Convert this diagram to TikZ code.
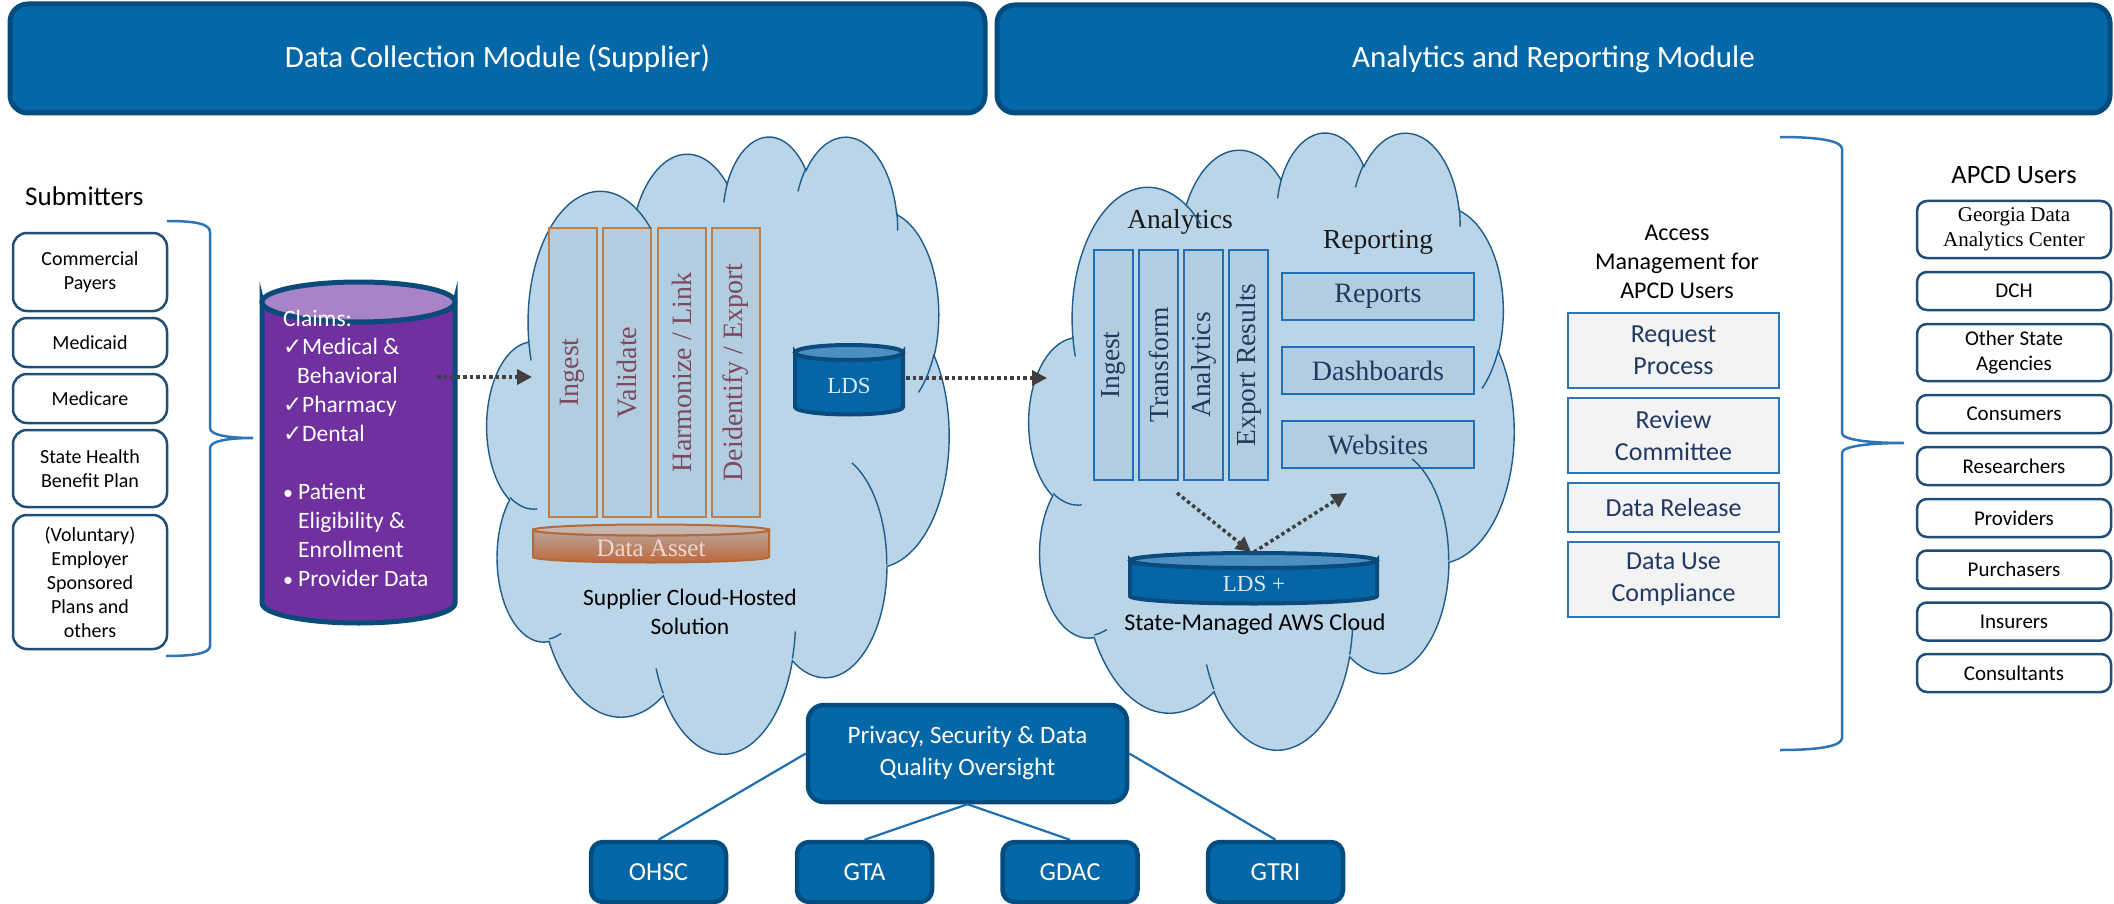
\documentclass[tikz,border=0pt]{standalone}
\usepackage{fontspec}
\setmainfont{Carlito}
\newfontfamily\serif{Liberation Serif}
\newfontfamily\djv{DejaVu Sans}
\usetikzlibrary{arrows.meta}

\definecolor{hdrfill}{HTML}{0468A8}
\definecolor{hdrborder}{HTML}{034C7F}
\definecolor{cloudfill}{HTML}{BAD5E8}
\definecolor{cloudline}{HTML}{1F5C8C}
\definecolor{ocolborder}{HTML}{C27D45}
\definecolor{colfill}{HTML}{B3CDE0}
\definecolor{ocoltext}{HTML}{7B4A5E}
\definecolor{bcolborder}{HTML}{1F70B8}
\definecolor{bcoltext}{HTML}{1F3A5F}
\definecolor{accfill}{HTML}{F3F3F3}
\definecolor{accborder}{HTML}{2E75B6}
\definecolor{acctext}{HTML}{203864}
\definecolor{boxborder}{HTML}{1F4E79}
\definecolor{bracecol}{HTML}{2E75B6}
\definecolor{purplebody}{HTML}{7030A0}
\definecolor{purpletop}{HTML}{A884C6}
\definecolor{cylborder}{HTML}{0B4B7C}
\definecolor{ldsbody}{HTML}{0466A6}
\definecolor{ldstop}{HTML}{4C90C2}
\definecolor{ldstext}{HTML}{DCE8F3}
\definecolor{assettop}{HTML}{B9A49C}
\definecolor{assetbot}{HTML}{C0683A}
\definecolor{assetborder}{HTML}{B36A3A}
\definecolor{assettext}{HTML}{ECD9D1}
\definecolor{arrowgray}{HTML}{404040}
\definecolor{linkblue}{HTML}{1F6FB0}

% OOXML-style elliptical arc: wR hR stAng swAng (visual angles)
\newcommand\CloudArc[4]{%
  \pgfmathsetmacro\CAa{atan2((#1)*sin(#3),(#2)*cos(#3))}%
  \pgfmathsetmacro\CAb{atan2((#1)*sin((#3)+(#4)),(#2)*cos((#3)+(#4)))}%
  \pgfmathsetmacro\CAb{ifthenelse((#4)>0,ifthenelse(\CAb<\CAa,\CAb+360,\CAb),ifthenelse(\CAb>\CAa,\CAb-360,\CAb))}%
  \pgfpatharcaxes{\CAa}{\CAb}{\pgfpointxy{#1}{0}}{\pgfpointxy{0}{#2}}%
}
\newcommand\CloudMain{%
 \pgfpathmoveto{\pgfpointxy{39.00}{143.70}}%
 \CloudArc{67.53}{91.90}{-190.4875}{123.7805}%
 \CloudArc{53.33}{72.67}{-144.1024}{89.9452}%
 \CloudArc{43.65}{59.45}{-145.8079}{99.7230}%
 \CloudArc{48.57}{65.95}{-130.9861}{117.2417}%
 \CloudArc{53.33}{72.73}{-78.7089}{109.0269}%
 \CloudArc{67.75}{92.20}{-46.2673}{130.2690}%
 \CloudArc{57.85}{78.67}{0.6250}{114.0333}%
 \CloudArc{67.52}{92.15}{22.4516}{115.1726}%
 \CloudArc{77.20}{105.43}{66.2426}{75.7110}%
 \CloudArc{43.60}{59.18}{-274.9421}{146.7356}%
 \CloudArc{43.45}{59.45}{-246.8285}{152.5189}%
 \pgfpathclose}
\newcommand\CloudInner{%
 \pgfpathmoveto{\pgfpointxy{46.93}{261.77}}\CloudArc{43.45}{59.45}{86.7420}{26.4295}%
 \pgfpathmoveto{\pgfpointxy{69.28}{348.99}}\CloudArc{43.60}{59.18}{73.6105}{11.4475}%
 \pgfpathmoveto{\pgfpointxy{164.78}{390.90}}\CloudArc{67.52}{92.15}{137.6242}{14.0811}%
 \pgfpathmoveto{\pgfpointxy{288.27}{347.51}}\CloudArc{67.52}{92.15}{6.4533}{15.9984}%
 \pgfpathmoveto{\pgfpointxy{341.29}{229.54}}\CloudArc{57.85}{78.67}{-70.2924}{70.9174}%
 \pgfpathmoveto{\pgfpointxy{417.98}{153.54}}\CloudArc{53.33}{72.73}{30.3180}{27.7515}%
 \pgfpathmoveto{\pgfpointxy{383.24}{54.26}}\CloudArc{48.57}{65.95}{-13.7443}{14.8589}%
 \pgfpathmoveto{\pgfpointxy{290.78}{39.52}}\CloudArc{48.57}{65.95}{-149.1815}{18.1954}%
 \pgfpathmoveto{\pgfpointxy{221.41}{47.20}}\CloudArc{43.65}{59.45}{-163.4943}{17.6864}%
 \pgfpathmoveto{\pgfpointxy{140.00}{51.92}}\CloudArc{67.53}{91.90}{-66.7070}{12.3194}%
 \pgfpathmoveto{\pgfpointxy{41.27}{157.89}}\CloudArc{67.53}{91.90}{157.6544}{11.8582}%
}
\newcommand\chk{\makebox[19pt][l]{\djv\fontsize{23}{24}\selectfont ✓}}
\newcommand\bul{\makebox[15pt][l]{\fontsize{20}{24}\selectfont •}}

\begin{document}
\begin{tikzpicture}[x=1pt,y=-1pt,
  hdr/.style={draw=hdrborder, fill=hdrfill, line width=5pt, rounded corners=18pt, text=white, font=\fontsize{31}{36}\selectfont},
  ocol/.style={draw=ocolborder, fill=colfill, line width=2pt, rotate=90, minimum width=289, minimum height=48, inner sep=0, text=ocoltext, font=\serif\fontsize{28}{30}\selectfont},
  bcol/.style={draw=bcolborder, fill=colfill, line width=2pt, rotate=90, minimum width=230, minimum height=39, inner sep=0, text=bcoltext, font=\serif\fontsize{27.5}{30}\selectfont},
  rbox/.style={draw=bcolborder, fill=colfill, line width=2.2pt, minimum width=192, minimum height=47, inner sep=0, text=bcoltext, font=\serif\fontsize{28}{30}\selectfont},
  abox/.style={draw=accborder, fill=accfill, line width=2.5pt, minimum width=211, text=acctext, align=center, font=\fontsize{26}{32}\selectfont},
  ubox/.style={draw=boxborder, fill=white, line width=2.5pt, rounded corners=10pt, minimum width=194, align=center, font=\fontsize{21}{25}\selectfont},
  sbox/.style={draw=boxborder, fill=white, line width=2.5pt, rounded corners=14pt, minimum width=154, align=center, font=\fontsize{20}{24}\selectfont},
  bbox/.style={draw=hdrborder, fill=hdrfill, line width=4.5pt, rounded corners=12pt, text=white, minimum width=135, minimum height=60, font=\fontsize{26}{30}\selectfont},
  bracestyle/.style={draw=bracecol, line width=2.5pt},
  linkstyle/.style={draw=linkblue, line width=2.2pt},
  dotarrow/.style={draw=arrowgray, line width=3.5pt, dash pattern=on 3.5pt off 3pt, -{Triangle[length=15pt, width=15pt]}},
  lbl/.style={inner sep=0}
]
\useasboundingbox (0,0) rectangle (2114,904);
\fill[white] (0,0) rectangle (2114,904);

% headers
\node[hdr, minimum width=975, minimum height=109] (hdrL) at (497.5,58.5) {Data Collection Module (Supplier)};
\node[hdr, minimum width=1113, minimum height=108] (hdrR) at (1553.5,59) {Analytics and Reporting Module};

% clouds
\begin{scope}[shift={(487,135)}, x=1.0694pt, y=-1.4282pt]
  \CloudMain
  \pgfsetfillcolor{cloudfill}\pgfsetstrokecolor{cloudline}\pgfsetlinewidth{1.4pt}%
  \pgfusepath{fill,stroke}
\end{scope}
\begin{scope}[shift={(1029,131)}, x=1.1227pt, y=-1.4282pt]
  \CloudMain
  \pgfsetfillcolor{cloudfill}\pgfsetstrokecolor{cloudline}\pgfsetlinewidth{1.4pt}%
  \pgfusepath{fill,stroke}
\end{scope}

% supplier cloud contents
\node[ocol] (c1) at (572.5,372.5) {Ingest};
\node[ocol] (c2) at (627,372.5) {Validate};
\node[ocol] (c3) at (681.5,372.5) {Harmonize / Link};
\node[ocol] (c4) at (736,372.5) {Deidentify / Export};

\path[top color=assettop, bottom color=assetbot, draw=assetborder, line width=2pt]
  (533,530) -- (533,557) arc[start angle=180,end angle=360,x radius=118pt,y radius=5.5pt]
  -- (769,530) arc[start angle=0,end angle=-180,x radius=118pt,y radius=5.5pt] -- cycle;
\path[fill=assettop!80!white, draw=assetborder, line width=2pt] (651,530) ellipse [x radius=118pt, y radius=5.5pt];
\node[lbl, text=assettext, font=\serif\fontsize{25}{28}\selectfont] (asset) at (651,548) {Data Asset};

\path[fill=ldsbody, draw=cylborder, line width=4pt]
  (795,352.5) -- (795,407) arc[start angle=180,end angle=360,x radius=54pt,y radius=7.5pt]
  -- (903,352.5) arc[start angle=0,end angle=-180,x radius=54pt,y radius=7.5pt] -- cycle;
\path[fill=ldstop, draw=cylborder, line width=4pt] (849,352.5) ellipse [x radius=54pt, y radius=7.5pt];
\node[lbl, text=ldstext, font=\serif\fontsize{23}{26}\selectfont] (lds) at (849,386) {LDS};

\node[font=\fontsize{23.5}{29}\selectfont, align=center] (suptxt) at (690,612) {Supplier Cloud-Hosted\\Solution};

% state cloud contents
\node[lbl, font=\serif\fontsize{27.5}{30}\selectfont, text=black!90] (anlbl) at (1180,222) {Analytics};
\node[lbl, font=\serif\fontsize{27.5}{30}\selectfont, text=black!90] (replbl) at (1378,242) {Reporting};
\node[bcol] (b1) at (1113.5,365) {Ingest};
\node[bcol] (b2) at (1158.5,365) {Transform};
\node[bcol] (b3) at (1203.5,365) {Analytics};
\node[bcol] (b4) at (1248.5,365) {Export Results};
\node[rbox] (r1) at (1378,296.5) {Reports};
\node[rbox] (r2) at (1378,370.5) {Dashboards};
\node[rbox] (r3) at (1378,444.5) {Websites};

\path[fill=ldsbody, draw=cylborder, line width=4pt]
  (1130,560.5) -- (1130,596) arc[start angle=180,end angle=360,x radius=123.5pt,y radius=7.5pt]
  -- (1377,560.5) arc[start angle=0,end angle=-180,x radius=123.5pt,y radius=7.5pt] -- cycle;
\path[fill=ldstop, draw=cylborder, line width=4pt] (1253.5,560.5) ellipse [x radius=123.5pt, y radius=7.5pt];
\node[lbl, text=ldstext, font=\serif\fontsize{23}{26}\selectfont] (ldsp) at (1254,584) {LDS +};

\node[font=\fontsize{24}{29}\selectfont] (statetxt) at (1255,624) {State-Managed AWS Cloud};

% arrows
\coordinate (a1s) at (437,377); \coordinate (a1e) at (532,377);
\coordinate (a2s) at (906,378); \coordinate (a2e) at (1047,378);
\coordinate (a3s) at (1177,493); \coordinate (a3e) at (1251,552);
\coordinate (a4s) at (1254,552); \coordinate (a4e) at (1347,493);

% claims cylinder
\path[fill=purplebody, draw=cylborder, line width=5pt]
  (262,302) -- (262,603) arc[start angle=180,end angle=360,x radius=96.5pt,y radius=20pt]
  -- (455,302) arc[start angle=0,end angle=-180,x radius=96.5pt,y radius=20pt] -- cycle;
\path[fill=purpletop, draw=cylborder, line width=5pt] (358.5,302) ellipse [x radius=96.5pt, y radius=20pt];
\node[anchor=west, inner sep=0, text=white, align=left, font=\fontsize{23.5}{28.9}\selectfont] (claims) at (283,448)
 {Claims:\\
  \chk Medical \&\\
  \hspace*{14pt}Behavioral\\
  \chk Pharmacy\\
  \chk Dental\\
  \mbox{}\\
  \bul Patient\\
  \hspace*{15pt}Eligibility \&\\
  \hspace*{15pt}Enrollment\\
  \bul Provider Data};

\draw[dotarrow] (a1s) -- (a1e);
\draw[dotarrow] (a2s) -- (a2e);
\draw[dotarrow] (a3s) -- (a3e);
\draw[dotarrow] (a4s) -- (a4e);

% inner cloud arcs
\begin{scope}[shift={(487,135)}, x=1.0694pt, y=-1.4282pt]
  \CloudInner
  \pgfsetstrokecolor{cloudline}\pgfsetlinewidth{1.4pt}%
  \pgfusepath{stroke}
\end{scope}
\begin{scope}[shift={(1029,131)}, x=1.1227pt, y=-1.4282pt]
  \CloudInner
  \pgfsetstrokecolor{cloudline}\pgfsetlinewidth{1.4pt}%
  \pgfusepath{stroke}
\end{scope}

% submitters
\node[anchor=west, inner sep=0, font=\fontsize{27}{30}\selectfont] (subt) at (25,196) {Submitters};
\node[sbox, minimum height=78] (s1) at (90,272) {Commercial\\Payers};
\node[sbox, minimum height=49] (s2) at (90,342.5) {Medicaid};
\node[sbox, minimum height=49] (s3) at (90,398.5) {Medicare};
\node[sbox, minimum height=77] (s4) at (90,468.5) {State Health\\Benefit Plan};
\node[sbox, minimum height=134] (s5) at (90,582) {(Voluntary)\\Employer\\Sponsored\\Plans and\\others};
\draw[bracestyle] (167,221) .. controls (196,221) and (210,224) .. (210,232) -- (210,428)
  .. controls (210,435) and (228,438) .. (253,438) .. controls (228,438) and (210,441) .. (210,448)
  -- (210,646) .. controls (210,653) and (195,656) .. (166,656);

% access management
\node[font=\fontsize{24}{29}\selectfont, align=center] (acctitle) at (1677,262) {Access\\Management for\\APCD Users};
\node[abox, minimum height=75] (m1) at (1673.5,350.5) {Request\\Process};
\node[abox, minimum height=75] (m2) at (1673.5,435.5) {Review\\Committee};
\node[abox, minimum height=49] (m3) at (1673.5,507.5) {Data Release};
\node[abox, minimum height=75] (m4) at (1673.5,579.5) {Data Use\\Compliance};
\draw[bracestyle] (1780,137) .. controls (1820,137) and (1842,141) .. (1842,149) -- (1842,433)
  .. controls (1842,440) and (1870,443) .. (1904,443) .. controls (1870,443) and (1842,446) .. (1842,453)
  -- (1842,738) .. controls (1842,746) and (1820,750) .. (1780,750);

% APCD users
\node[font=\fontsize{26.5}{30}\selectfont] (apcdt) at (2014,175) {APCD Users};
\node[ubox, minimum height=57, font=\serif\fontsize{21}{25}\selectfont] (u1) at (2014,229.5) {Georgia Data\\Analytics Center};
\node[ubox, minimum height=38] (u2) at (2014,291) {DCH};
\node[ubox, minimum height=57] (u3) at (2014,352.5) {Other State\\Agencies};
\node[ubox, minimum height=38] (u4) at (2014,414) {Consumers};
\node[ubox, minimum height=38] (u5) at (2014,466) {Researchers};
\node[ubox, minimum height=38] (u6) at (2014,518) {Providers};
\node[ubox, minimum height=38] (u7) at (2014,569.5) {Purchasers};
\node[ubox, minimum height=38] (u8) at (2014,621.5) {Insurers};
\node[ubox, minimum height=38] (u9) at (2014,673) {Consultants};

% oversight
\node[bbox, minimum width=319, minimum height=97, rounded corners=16pt, align=center, font=\fontsize{25}{32}\selectfont] (priv) at (967.5,753.5) {Privacy, Security \& Data\\Quality Oversight};
\node[bbox] (ohsc) at (658.5,872) {OHSC};
\node[bbox] (gta) at (864.5,872) {GTA};
\node[bbox] (gdac) at (1070,872) {GDAC};
\node[bbox] (gtri) at (1275.5,872) {GTRI};
\draw[linkstyle] (priv.west) -- (ohsc.north);
\draw[linkstyle] (priv.south) -- (gta.north);
\draw[linkstyle] (priv.south) -- (gdac.north);
\draw[linkstyle] (priv.east) -- (gtri.north);
\end{tikzpicture}
\end{document}
